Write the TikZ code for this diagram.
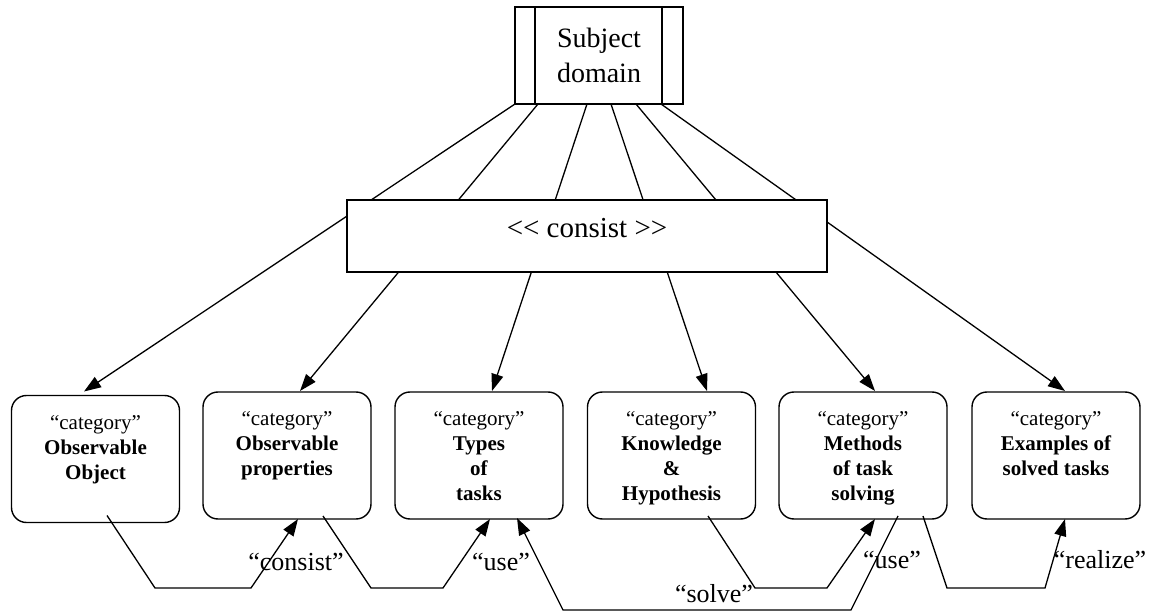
\documentclass[tikz,border=0pt]{standalone}
\usepackage{fontspec}
\setmainfont{Liberation Serif}
\usetikzlibrary{arrows.meta,calc}
\begin{document}
\begin{tikzpicture}[x=1pt,y=-1pt,
  every node/.style={inner sep=0pt, outer sep=0pt},
  ln/.style={line width=1.3pt},
  arr/.style={ln,-{Triangle[length=17pt,width=12pt]}},
  catbox/.style={draw,line width=1.4pt,rounded corners=15pt,minimum width=168pt,minimum height=127pt},
  cattext/.style={anchor=north,align=center,font=\fontsize{21}{25}\selectfont},
  lbl/.style={anchor=base,font=\fontsize{26}{30}\selectfont}]
\useasboundingbox (0,0) rectangle (1152,612);

% top box
\node[draw,line width=1.4pt,minimum width=168pt,minimum height=97pt,align=center,
      font=\fontsize{28}{35}\selectfont] (sd) at (599,55.5) {Subject\\domain};
\draw[ln] ([xshift=20pt]sd.north west) -- ([xshift=20pt]sd.south west);
\draw[ln] ([xshift=-21pt]sd.north east) -- ([xshift=-21pt]sd.south east);

% category boxes
\node[catbox] (b1) at (95.5,459) {};
\node[catbox] (b2) at (287,455.5) {};
\node[catbox] (b3) at (479,455.5) {};
\node[catbox] (b4) at (671.5,455.5) {};
\node[catbox] (b5) at (863,455.5) {};
\node[catbox] (b6) at (1056,455.5) {};

\node[cattext] (t1) at ([yshift=-20pt]b1.north) {“category”\\\textbf{Observable}\\\textbf{Object}};
\node[cattext] (t2) at ([yshift=-20pt]b2.north) {“category”\\\textbf{Observable}\\\textbf{properties}};
\node[cattext] (t3) at ([yshift=-20pt]b3.north) {“category”\\\textbf{Types}\\\textbf{of}\\\textbf{tasks}};
\node[cattext] (t4) at ([yshift=-20pt]b4.north) {“category”\\\textbf{Knowledge}\\\textbf{\&}\\\textbf{Hypothesis}};
\node[cattext] (t5) at ([yshift=-20pt]b5.north) {“category”\\\textbf{Methods}\\\textbf{of task}\\\textbf{solving}};
\node[cattext] (t6) at ([yshift=-20pt]b6.north) {“category”\\\textbf{Examples of}\\\textbf{solved tasks}};

% lines from subject domain
\draw[arr] (sd.south west) -- ([shift={(-11.5pt,4pt)}]b1.north);
\draw[arr] ([xshift=23pt]sd.south west) -- ([shift={(13pt,1pt)}]b2.north);
\draw[arr] ([xshift=-12pt]sd.south) -- ([shift={(13pt,1pt)}]b3.north);
\draw[arr] ([xshift=12pt]sd.south) -- ([shift={(35.5pt,1pt)}]b4.north);
\draw[arr] ([xshift=37pt]sd.south) -- ([shift={(12pt,1pt)}]b5.north);
\draw[arr] ([xshift=-22pt]sd.south east) -- ([shift={(9pt,1pt)}]b6.north);

% consist box on top
\node[draw,line width=1.4pt,fill=white,minimum width=480pt,minimum height=72pt] (cons) at (587,236) {};
\node[anchor=base,font=\fontsize{29}{34}\selectfont] (ct) at (587,238) {{<}{<} consist {>}{>}};

% bottom connectors
\draw[arr] ([shift={(11.5pt,7pt)}]b1.south) -- (155,588) -- (251,588) -- ([xshift=11pt]b2.south);
\draw[arr] ([shift={(36pt,3pt)}]b2.south) -- (371,588) -- (443,588) -- ([xshift=11pt]b3.south);
\draw[arr] ([shift={(35pt,3pt)}]b5.south) -- (851,610) -- (563,610) -- ([shift={(38pt,1pt)}]b3.south);
\draw[arr] ([shift={(36.5pt,3pt)}]b4.south) -- (755,588) -- (827,588) -- ([xshift=12pt]b5.south);
\draw[arr] ([shift={(60pt,3pt)}]b5.south) -- (947,588) -- (1045,588) -- ([xshift=9pt]b6.south);

% labels
\node[lbl] (lc) at (296,570) {“consist”};
\node[lbl] (lu1) at (501,570) {“use”};
\node[lbl] (ls) at (714,602) {“solve”};
\node[lbl] (lu2) at (892,568) {“use”};
\node[lbl] (lr) at (1100,568) {“realize”};
\end{tikzpicture}
\end{document}
